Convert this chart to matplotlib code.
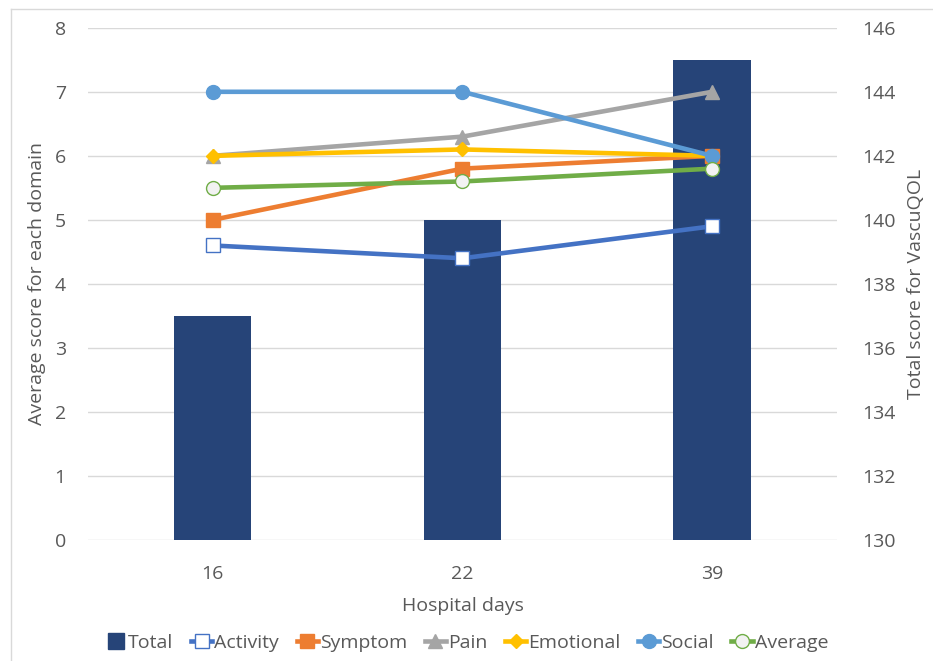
import matplotlib.pyplot as plt
from matplotlib.lines import Line2D

plt.rcParams['font.family'] = ['Open Sans', 'DejaVu Sans']

# data
days = ['16', '22', '39']
total = [137, 140, 145]
activity = [4.6, 4.4, 4.9]
symptom = [5.0, 5.8, 6.0]
pain = [6.0, 6.3, 7.0]
emotional = [6.0, 6.1, 6.0]
social = [7.0, 7.0, 6.0]
average = [5.5, 5.6, 5.8]

text_col = '#595959'
grid_col = '#D9D9D9'
bar_col = '#264478'

fig = plt.figure(figsize=(9.33, 6.61), dpi=100)
ax = fig.add_axes([0.0943, 0.183, 0.8027, 0.775])
axr = ax.twinx()

x = range(len(days))

# bars on the secondary axis, drawn underneath
axr.bar(x, total, width=0.31, color=bar_col, zorder=2, label='Total')
axr.set_ylim(130, 146)
axr.set_yticks(range(130, 147, 2))
axr.grid(axis='y', color=grid_col, lw=1, zorder=0)
axr.set_axisbelow(True)

ax.set_zorder(axr.get_zorder() + 1)
ax.patch.set_visible(False)

series = [
    ('Activity', activity, '#4472C4', 's', 'white'),
    ('Symptom', symptom, '#ED7D31', 's', '#ED7D31'),
    ('Pain', pain, '#A5A5A5', '^', '#A5A5A5'),
    ('Emotional', emotional, '#FFC000', 'D', '#FFC000'),
    ('Social', social, '#5B9BD5', 'o', '#5B9BD5'),
    ('Average', average, '#70AD47', 'o', '#F2F2F2'),
]
for name, vals, col, mk, fc in series:
    ms = 7 if mk == 'D' else 10
    ax.plot(x, vals, color=col, lw=3.3, marker=mk, markersize=ms,
            markerfacecolor=fc, markeredgecolor=col, markeredgewidth=1, label=name)

ax.set_ylim(0, 8)
ax.set_xlim(-0.5, 2.5)
ax.set_xticks(list(x))
ax.set_xticklabels(days)

for a in (ax, axr):
    for s in a.spines.values():
        s.set_visible(False)
    a.tick_params(length=0, labelsize=14, colors=text_col)
ax.tick_params(axis='x', pad=18)
ax.tick_params(axis='y', pad=16)
axr.tick_params(axis='y', pad=18)

ax.set_ylabel('Average score for each domain', fontsize=14, color=text_col, labelpad=6)
axr.set_ylabel('Total score for VascuQOL', fontsize=14, color=text_col, rotation=90, labelpad=8)
ax.set_xlabel('Hospital days', fontsize=14, color=text_col, labelpad=10)

handles = [Line2D([], [], ls='none', marker='s', markersize=11, color=bar_col)]
labels = ['Total']
h, l = ax.get_legend_handles_labels()
handles += h
labels += l
fig.legend(handles, labels, loc='center', bbox_to_anchor=(0.5, 0.027), ncol=7,
           frameon=False, fontsize=14, labelcolor=text_col, handlelength=1.1,
           handletextpad=0.1, columnspacing=0.9)

# chart area border (top and left visible)
fig.add_artist(Line2D([11 / 933, 1], [1 - 9 / 661, 1 - 9 / 661], color=grid_col, lw=1))
fig.add_artist(Line2D([11 / 933, 11 / 933], [0, 1 - 9 / 661], color=grid_col, lw=1))

fig.savefig('out.png', dpi=100)
